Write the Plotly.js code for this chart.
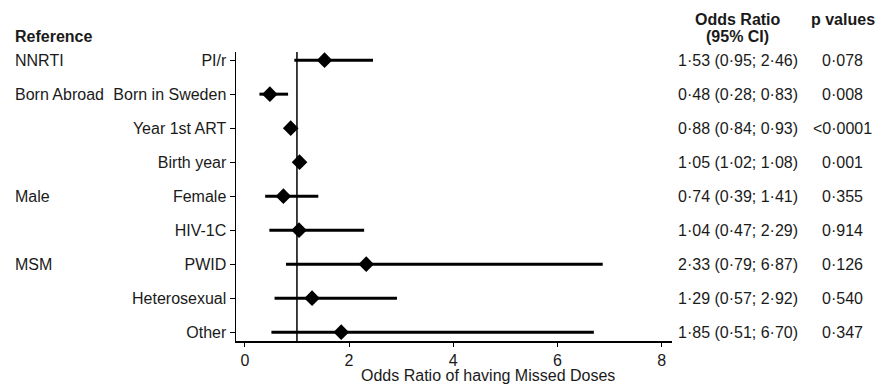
<!DOCTYPE html>
<html>
<head>
<meta charset="utf-8">
<script src="https://cdn.plot.ly/plotly-3.0.1.min.js"></script>
<style>html,body{margin:0;padding:0;background:#fff;}#chart{width:890px;height:388px;}</style>
</head>
<body>
<div id="chart"></div>
<script>
const labels = ["PI/r", "Born in Sweden", "Year 1st ART", "Birth year", "Female", "HIV-1C", "PWID", "Heterosexual", "Other"];
const oddsRatio = [1.53, 0.48, 0.88, 1.05, 0.74, 1.04, 2.33, 1.29, 1.85];
const ciLow = [0.95, 0.28, 0.84, 1.02, 0.39, 0.47, 0.79, 0.57, 0.51];
const ciHigh = [2.46, 0.83, 0.93, 1.08, 1.41, 2.29, 6.87, 2.92, 6.70];
const orText = ["1·53 (0·95; 2·46)", "0·48 (0·28; 0·83)", "0·88 (0·84; 0·93)", "1·05 (1·02; 1·08)", "0·74 (0·39; 1·41)", "1·04 (0·47; 2·29)", "2·33 (0·79; 6·87)", "1·29 (0·57; 2·92)", "1·85 (0·51; 6·70)"];
const pValues = ["0·078", "0·008", "<0·0001", "0·001", "0·355", "0·914", "0·126", "0·540", "0·347"];
const refGroups = ["NNRTI", "Born Abroad", "", "", "Male", "", "MSM", "", ""];
const xTicks = [0, 2, 4, 6, 8];

const rows = labels.map((_, i) => i);
const FONT = "Liberation Sans, Arial, sans-serif";
const FS = 16;
const TC = "#1a1a1a";

const trace = {
  type: "scatter",
  mode: "markers",
  x: oddsRatio,
  y: rows,
  marker: {symbol: "diamond", size: 12, color: "#000"},
  error_x: {
    type: "data", symmetric: false,
    array: oddsRatio.map((v, i) => ciHigh[i] - v),
    arrayminus: oddsRatio.map((v, i) => v - ciLow[i]),
    thickness: 3, width: 0, color: "#000"
  },
  hoverinfo: "none"
};

const ann = [];
rows.forEach(i => {
  ann.push({xref: "paper", yref: "y", x: 1.151, y: i, text: orText[i], showarrow: false, xanchor: "center", yanchor: "middle", font: {family: FONT, size: FS, color: TC}});
  ann.push({xref: "paper", yref: "y", x: 1.392, y: i, text: pValues[i], showarrow: false, xanchor: "center", yanchor: "middle", font: {family: FONT, size: FS, color: TC}});
  if (refGroups[i]) ann.push({xref: "paper", yref: "y", x: -0.511, y: i, text: refGroups[i], showarrow: false, xanchor: "left", yanchor: "middle", font: {family: FONT, size: FS, color: TC}});
});
ann.push({xref: "paper", yref: "paper", x: -0.511, y: 1.055, text: "<b>Reference</b>", showarrow: false, xanchor: "left", yanchor: "middle", font: {family: FONT, size: FS, color: TC}});
ann.push({xref: "paper", yref: "paper", x: 1.151, y: 1.114, text: "<b>Odds Ratio</b>", showarrow: false, xanchor: "center", yanchor: "middle", font: {family: FONT, size: FS, color: TC}});
ann.push({xref: "paper", yref: "paper", x: 1.151, y: 1.055, text: "<b>(95% CI)</b>", showarrow: false, xanchor: "center", yanchor: "middle", font: {family: FONT, size: FS, color: TC}});
ann.push({xref: "paper", yref: "paper", x: 1.392, y: 1.114, text: "<b>p values</b>", showarrow: false, xanchor: "center", yanchor: "middle", font: {family: FONT, size: FS, color: TC}});
ann.push({xref: "paper", yref: "paper", x: 0.578, y: -0.118, text: "Odds Ratio of having Missed Doses", showarrow: false, xanchor: "center", yanchor: "middle", font: {family: FONT, size: FS, color: TC}});

const layout = {
  width: 890, height: 388,
  margin: {l: 236, r: 218, t: 52, b: 47, pad: 0},
  paper_bgcolor: "#fff", plot_bgcolor: "#fff",
  showlegend: false,
  xaxis: {
    range: [-0.17, 8.2], tickvals: xTicks, ticktext: xTicks.map(String),
    showgrid: false, zeroline: false, showline: true, linecolor: "#000", linewidth: 1.5,
    ticks: "outside", ticklen: 4, tickwidth: 1, tickcolor: "#000",
    tickfont: {family: FONT, size: FS, color: TC}
  },
  yaxis: {
    range: [8.26, -0.24], tickvals: rows, ticktext: labels,
    showgrid: false, zeroline: false, showline: true, linecolor: "#000", linewidth: 1.5,
    ticks: "outside", ticklen: 5, tickwidth: 1, tickcolor: "#000",
    tickfont: {family: FONT, size: FS, color: TC}
  },
  shapes: [{type: "line", xref: "x", yref: "paper", x0: 1, x1: 1, y0: 0, y1: 1, line: {color: "#000", width: 1.5}}],
  annotations: ann
};

Plotly.newPlot("chart", [trace], layout, {staticPlot: true, displayModeBar: false});
</script>
</body>
</html>
